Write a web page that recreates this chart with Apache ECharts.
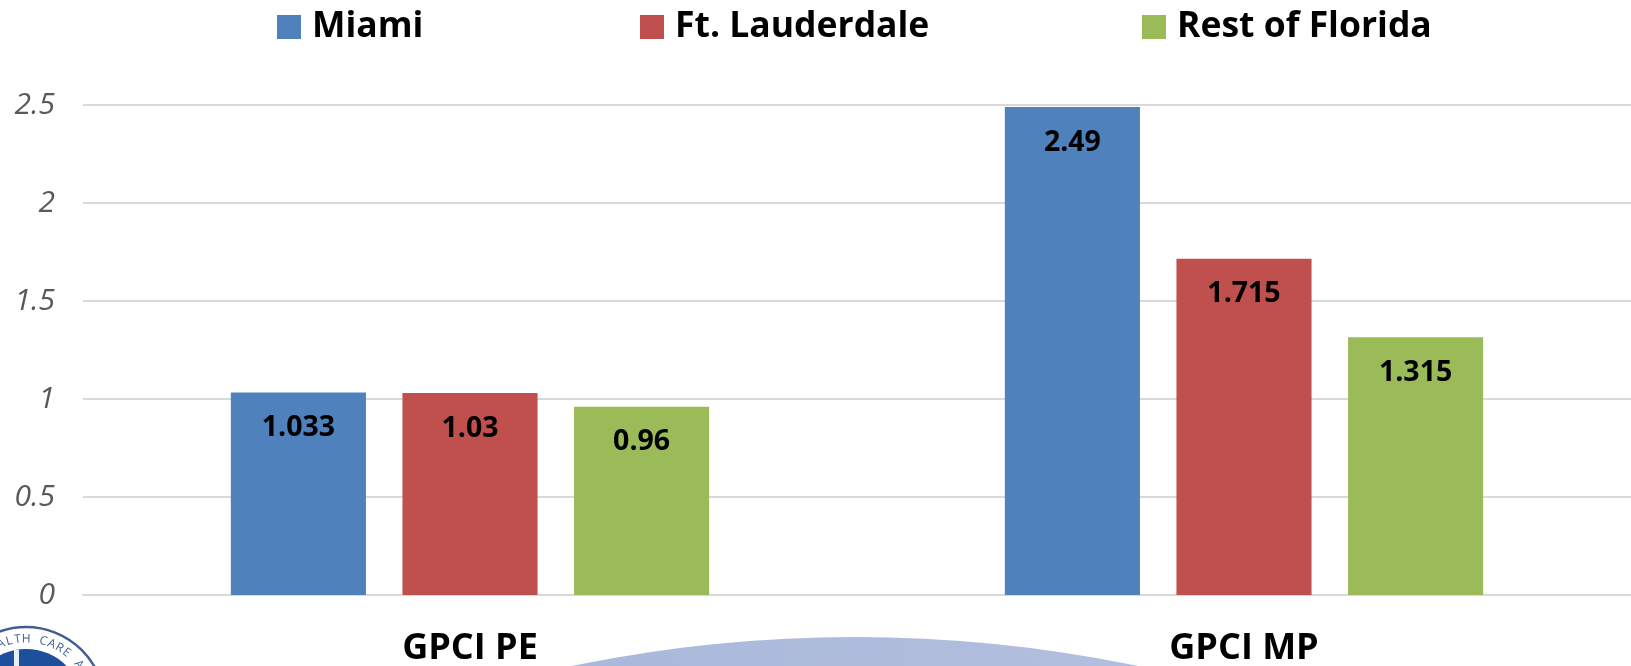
<!DOCTYPE html>
<html>
<head>
<meta charset="utf-8">
<style>html,body{margin:0;padding:0;background:#fff;overflow:hidden}#c{width:1631px;height:666px}</style>
<script src="https://cdn.jsdelivr.net/npm/echarts@6/dist/echarts.min.js"></script>
</head>
<body>
<div id="c"></div>
<script>
const categories = ['GPCI PE', 'GPCI MP'];
const miami = [1.033, 2.49];
const ftLauderdale = [1.03, 1.715];
const restOfFlorida = [0.96, 1.315];
const tickLabels = ['0', '0.5', '1', '1.5', '2', '2.5'];
const sealText = 'ALTH CARE ADMIN';

const FONT = '"Open Sans", "Noto Sans", sans-serif';
const chart = echarts.init(document.getElementById('c'), null, {renderer: 'canvas'});
function series(name, data, color) {
  return {
    name, type: 'bar', data,
    barGap: '27%', barCategoryGap: '38.2%',
    itemStyle: {color},
    label: {show: true, position: 'insideTop', distance: 21, color: '#000', fontFamily: FONT, fontWeight: 'bold', fontSize: 28.5},
    z: 3
  };
}
function legend(name, left) {
  return {
    data: [name], left, top: 4, icon: 'rect', itemWidth: 24, itemHeight: 24, itemGap: 0,
    textStyle: {color: '#000', fontFamily: FONT, fontWeight: 'bold', fontSize: 35.5, padding: [4, 0, 0, 6]},
    selectedMode: false
  };
}
const sealLetters = sealText.split('').map((ch, i) => {
  const a = (-22 + i * 7.4) * Math.PI / 180;
  return {
    type: 'text', x: 26 + 67 * Math.sin(a), y: 706 - 67 * Math.cos(a), rotation: -a,
    style: {text: ch, fill: '#3f5f92', fontFamily: FONT, fontSize: 12, align: 'center', verticalAlign: 'middle'},
    z: 1, silent: true
  };
});
chart.setOption({
  animation: false,
  backgroundColor: '#fff',
  legend: [legend('Miami', 272), legend('Ft. Lauderdale', 635), legend('Rest of Florida', 1137)],
  grid: {left: 83, right: 0, top: 105, height: 490, containLabel: false, outerBoundsMode: 'none'},
  xAxis: {
    type: 'category', data: categories,
    axisLine: {lineStyle: {color: '#d9d9d9', width: 2}},
    axisTick: {show: false},
    axisLabel: {color: '#000', fontFamily: FONT, fontWeight: 'bold', fontSize: 36, margin: 36}
  },
  yAxis: {
    type: 'value', min: 0, max: 2.5, interval: 0.5,
    axisLine: {show: false}, axisTick: {show: false},
    splitLine: {lineStyle: {color: '#d9d9d9', width: 2}},
    axisLabel: {
      color: '#595959', fontFamily: FONT, fontStyle: 'italic', fontSize: 30, margin: 28,
      formatter: v => tickLabels[Math.round(v / 0.5)]
    }
  },
  graphic: [
    {type: 'circle', shape: {cx: 855, cy: 2037, r: 1400}, style: {
      fill: new echarts.graphic.LinearGradient(0, 0, 1, 0, [{offset: 0.3, color: '#a5b6d8'}, {offset: 0.7, color: '#b7c1e0'}])
    }, z: 0, silent: true},
    {type: 'circle', shape: {cx: 26, cy: 706, r: 79}, style: {fill: '#fff', stroke: '#3f5f92', lineWidth: 2.5}, z: 0, silent: true},
    {type: 'circle', shape: {cx: 26, cy: 706, r: 57}, style: {fill: '#1c4f9c'}, z: 0, silent: true},
    {type: 'rect', shape: {x: 14, y: 650, width: 5, height: 16}, style: {fill: '#e8eef6'}, z: 1, silent: true}
  ].concat(sealLetters),
  series: [
    series('Miami', miami, '#4f81bd'),
    series('Ft. Lauderdale', ftLauderdale, '#c0504d'),
    series('Rest of Florida', restOfFlorida, '#9bbb59')
  ]
});
</script>
</body>
</html>
